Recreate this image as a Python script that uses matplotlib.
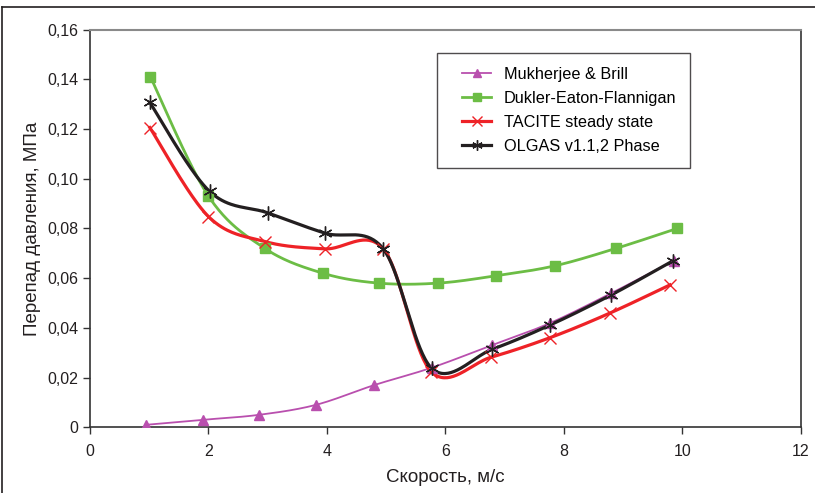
import numpy as np
import matplotlib
matplotlib.use('Agg')
from matplotlib import pyplot as plt
from matplotlib.lines import Line2D
from matplotlib.legend_handler import HandlerLine2D

plt.rcParams['font.family'] = ['Liberation Sans', 'DejaVu Sans']

# данные
x_muk = [0.95, 1.9, 2.85, 3.81, 4.8, 5.77, 6.78, 7.77, 8.8, 9.85]
y_muk = [0.001, 0.003, 0.005, 0.009, 0.017, 0.024, 0.033, 0.042, 0.054, 0.067]

x_duk = [1.02, 2.0, 2.95, 3.93, 4.88, 5.87, 6.86, 7.85, 8.88, 9.91]
y_duk = [0.141, 0.093, 0.072, 0.062, 0.058, 0.058, 0.061, 0.065, 0.072, 0.080]

x_tac = [1.01, 2.0, 2.96, 3.96, 4.95, 5.76, 6.77, 7.77, 8.77, 9.79]
y_tac = [0.1206, 0.0848, 0.0747, 0.0718, 0.0718, 0.0224, 0.0282, 0.0361, 0.0459, 0.0573]

x_olg = [1.01, 2.02, 3.01, 3.97, 4.95, 5.77, 6.79, 7.77, 8.8, 9.84]
y_olg = [0.1307, 0.0949, 0.0862, 0.0781, 0.0718, 0.0237, 0.0314, 0.0412, 0.0533, 0.067]

labels = ['Mukherjee & Brill', 'Dukler-Eaton-Flannigan', 'TACITE steady state', 'OLGAS v1.1,2 Phase']


def smooth(xs, ys, n=40):
    # сглаживание как в Excel (кривые Безье)
    p = np.column_stack([xs, ys]).astype(float)
    out = []
    for i in range(len(p) - 1):
        p0 = p[i - 1] if i > 0 else p[i]
        p3 = p[i + 2] if i + 2 < len(p) else p[i + 1]
        c1 = p[i] + (p[i + 1] - p0) / 6
        c2 = p[i + 1] - (p3 - p[i]) / 6
        t = np.linspace(0, 1, n)[:, None]
        seg = ((1 - t) ** 3) * p[i] + 3 * ((1 - t) ** 2) * t * c1 + 3 * (1 - t) * t ** 2 * c2 + t ** 3 * p[i + 1]
        out.append(seg)
    out = np.vstack(out)
    return out[:, 0], out[:, 1]


fig = plt.figure(figsize=(8.15, 4.93), dpi=100)
ax = fig.add_axes([0.1104, 0.1333, 0.8724, 0.8065])

star = (6, 2, 0)
series = [
    (x_muk, y_muk, '#B94FAE', '^', 7, 1.3),
    (x_duk, y_duk, '#6CBD45', 's', 7, 2.0),
    (x_tac, y_tac, '#EE2227', 'x', 9, 2.3),
    (x_olg, y_olg, '#231F20', star, 10, 2.3),
]
handles = []
for (xs, ys, col, mk, ms, lw), lab in zip(series, labels):
    sx, sy = smooth(xs, ys)
    ax.plot(sx, sy, color=col, lw=lw, zorder=2)
    ax.plot(xs, ys, ls='none', marker=mk, color=col, ms=ms, mew=1.0, zorder=3)
    handles.append(Line2D([0], [0], color=col, lw=lw, marker=mk, ms=ms * 0.75, mew=1.0))

ax.set_xlim(0, 12)
ax.set_ylim(0, 0.16)
ax.set_xticks(np.arange(0, 13, 2))
ax.set_yticks(np.arange(0, 0.161, 0.02))
ax.set_yticklabels(['0'] + [('%.2f' % v).replace('.', ',') for v in np.arange(0.02, 0.161, 0.02)])
ax.tick_params(direction='out', length=5, width=1, labelsize=11.5, colors='#333333', labelcolor='#231F20')
ax.tick_params(axis='x', pad=7)
ax.set_xlabel('Скорость, м/с', fontsize=13.5, color='#231F20', labelpad=7)
ax.set_ylabel('Перепад давления, МПа', fontsize=13.5, color='#231F20', labelpad=4)

for s in ['left', 'bottom', 'right']:
    ax.spines[s].set_color('#333333')
    ax.spines[s].set_linewidth(1.2)
ax.spines['top'].set_color('#8a8a8a')
ax.spines['top'].set_linewidth(1.5)

leg = ax.legend(handles, labels, loc='upper left', bbox_to_anchor=(0.488, 0.941), borderaxespad=0,
                fontsize=11.7, frameon=True, fancybox=False, edgecolor='#231F20',
                handlelength=2.5, labelspacing=0.55, borderpad=0.85, handletextpad=0.75,
                handler_map={Line2D: HandlerLine2D(xpad=0.7)})
leg.get_frame().set_linewidth(1.0)

# рамка рисунка
fig.add_artist(Line2D([0.0025, 0.0025], [0, 0.985], transform=fig.transFigure, color='#231F20', lw=1.2))
fig.add_artist(Line2D([0.0025, 1], [0.985, 0.985], transform=fig.transFigure, color='#231F20', lw=1.2))

fig.savefig('out.png', dpi=100)
